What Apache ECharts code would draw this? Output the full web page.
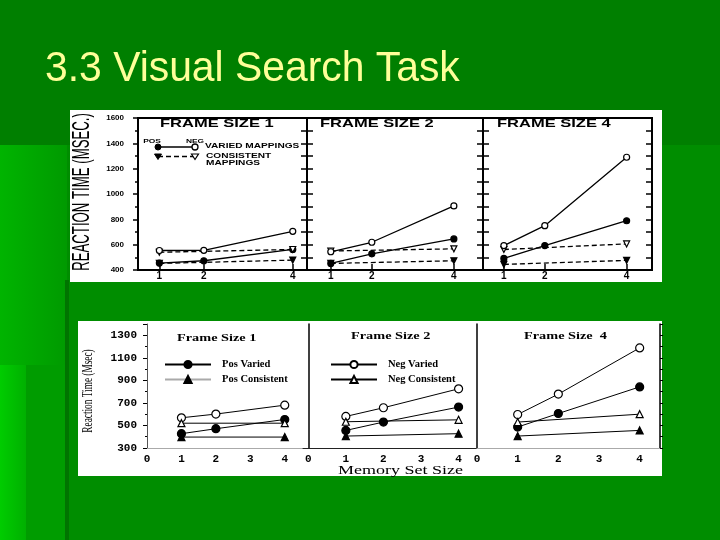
<!DOCTYPE html>
<html>
<head>
<meta charset="utf-8">
<title>3.3 Visual Search Task</title>
<script src="https://cdn.jsdelivr.net/npm/echarts@6/dist/echarts.min.js"></script>
<style>html,body{margin:0;padding:0;background:#008000;}</style>
</head>
<body>
<div id="main" style="width:720px;height:540px;"></div>
<script type="text/javascript">
// memory set sizes on the x axis
var setSize = [1, 2, 4];
var consSize = [1, 4];      // consistent mapping only plotted at 1 and 4
var frameSizes = ['1', '2', '4'];

// upper figure, one row per frame size (1, 2, 4)
var upPosVaried = [[455, 473, 562], [452, 528, 645], [491, 593, 789]];
var upNegVaried = [[554, 555, 705], [544, 619, 906], [593, 750, 1290]];
var upPosConsistent = [[452, 478], [452, 473], [444, 476]];
var upNegConsistent = [[540, 562], [550, 567], [562, 606]];

// lower figure
var loPosVaried = [[427, 471, 553], [456, 530, 663], [486, 606, 842]];
var loNegVaried = [[568, 601, 680], [580, 657, 825], [597, 778, 1188]];
var loPosConsistent = [[397, 397], [406, 427], [406, 456]];
var loNegConsistent = [[520, 520], [533, 550], [530, 600]];

var upTicksX = [1, 2, 4];
var loTicksX = [0, 1, 2, 3, 4];

function pairs(xs, ys) {
  var out = [];
  for (var i = 0; i < xs.length; i++) out.push([xs[i], ys[i]]);
  return out;
}

function mk(name, ax, ay, data, symbol, filled, dashed, size, rot, width) {
  return {
    name: name, type: 'line', xAxisIndex: ax, yAxisIndex: ay, data: data,
    symbol: symbol, symbolSize: size, symbolRotate: rot || 0, z: filled ? 3 : 4,
    lineStyle: {color: '#000', width: width, type: dashed ? [5, 3] : 'solid'},
    itemStyle: {color: filled ? '#000' : '#fff', borderColor: '#000', borderWidth: 1.2},
    animation: false
  };
}

function plain(v) { return String(v); }

var chart = echarts.init(document.getElementById('main'));

var upGrid = [
  {left: 138, top: 118, width: 169, height: 152},
  {left: 307, top: 118, width: 176, height: 152},
  {left: 483, top: 118, width: 169, height: 152}
];
var upRange = [[0.52, 4.32], [0.42, 4.71], [0.49, 4.62]];
var loGrid = [
  {left: 147, top: 324, width: 156, height: 124},
  {left: 303, top: 324, width: 174, height: 124},
  {left: 477, top: 324, width: 183, height: 124}
];
var loRange = [[0, 4.53], [-0.14, 4.49], [0, 4.5]];

var grid = [], xAxis = [], yAxis = [], series = [];
var i;
for (i = 0; i < 3; i++) {
  grid.push(Object.assign({show: true, borderColor: '#000', borderWidth: 2, backgroundColor: 'transparent'}, upGrid[i]));
  xAxis.push({
    type: 'value', gridIndex: i, min: upRange[i][0], max: upRange[i][1],
    axisLine: {show: true, onZero: false, lineStyle: {color: '#000', width: 2}},
    axisTick: {show: true, inside: true, length: 6, customValues: upTicksX, lineStyle: {color: '#000', width: 1.5}},
    axisLabel: {customValues: upTicksX, margin: 1, fontSize: 10, fontWeight: 'bold', color: '#000', fontFamily: 'Liberation Sans'},
    splitLine: {show: false}
  });
}
for (i = 0; i < 3; i++) {
  grid.push(Object.assign({show: false}, loGrid[i]));
  xAxis.push({
    type: 'value', gridIndex: 3 + i, min: loRange[i][0], max: loRange[i][1],
    axisLine: {show: true, onZero: false, lineStyle: {color: i == 1 ? '#222' : '#aaa', width: 1}},
    axisTick: {show: false},
    axisLabel: {customValues: loTicksX, margin: 6, fontSize: 11, fontWeight: 'bold', color: '#000', fontFamily: 'Liberation Mono'},
    splitLine: {show: false}
  });
}
// upper left axes 0..2
for (i = 0; i < 3; i++) {
  yAxis.push({
    type: 'value', gridIndex: i, min: 400, max: 1600, interval: i == 0 ? 200 : 100,
    axisLine: {show: true, lineStyle: {color: '#000', width: 2}},
    axisTick: i == 0 ? {show: true, inside: false, length: 5, lineStyle: {color: '#000', width: 1.5}}
                     : {show: true, inside: true, length: 6, lineStyle: {color: '#000', width: 1.5}},
    minorTick: {show: i == 0, splitNumber: 2, length: 3, lineStyle: {color: '#000', width: 1.5}},
    axisLabel: {show: i == 0, formatter: plain, margin: 14, fontSize: 8, fontWeight: 'bold', color: '#000', fontFamily: 'Liberation Sans'},
    splitLine: {show: false}
  });
}
// upper right axes 3..5
for (i = 0; i < 3; i++) {
  yAxis.push({
    type: 'value', gridIndex: i, position: 'right', min: 400, max: 1600, interval: 100,
    axisLine: {show: true, lineStyle: {color: '#000', width: 2}},
    axisTick: {show: true, inside: true, length: 6, lineStyle: {color: '#000', width: 1.5}},
    axisLabel: {show: false}, splitLine: {show: false}
  });
}
// lower left axes 6..8
for (i = 0; i < 3; i++) {
  yAxis.push({
    type: 'value', gridIndex: 3 + i, min: 300, max: 1400, interval: 200,
    axisLine: {show: true, lineStyle: {color: i == 0 ? '#555' : '#000', width: i == 0 ? 1 : 1.5}},
    axisTick: {show: i == 0, inside: false, length: 4, lineStyle: {color: '#000'}},
    minorTick: {show: i == 0, splitNumber: 2, length: 2, lineStyle: {color: '#000'}},
    axisLabel: {show: i == 0, formatter: plain, showMaxLabel: false, margin: 10, fontSize: 11, fontWeight: 'bold', color: '#000', fontFamily: 'Liberation Mono'},
    splitLine: {show: false}
  });
}
// lower right edge of last panel, 9
yAxis.push({
  type: 'value', gridIndex: 5, position: 'right', min: 300, max: 1400, interval: 100,
  axisLine: {show: true, lineStyle: {color: '#000', width: 1.5}},
  axisTick: {show: true, inside: false, length: 3, lineStyle: {color: '#000'}},
  axisLabel: {show: false}, splitLine: {show: false}
});

for (i = 0; i < 3; i++) {
  series.push(mk('NEG CONSISTENT', i, i, pairs(consSize, upNegConsistent[i]), 'triangle', false, true, 6, 180, 1.3));
  series.push(mk('POS CONSISTENT', i, i, pairs(consSize, upPosConsistent[i]), 'triangle', true, true, 6, 180, 1.3));
  series.push(mk('POS VARIED', i, i, pairs(setSize, upPosVaried[i]), 'circle', true, false, 6, 0, 1.3));
  series.push(mk('NEG VARIED', i, i, pairs(setSize, upNegVaried[i]), 'circle', false, false, 6, 0, 1.3));
}
for (i = 0; i < 3; i++) {
  series.push(mk('Pos Varied', 3 + i, 6 + i, pairs(setSize, loPosVaried[i]), 'circle', true, false, 8, 0, 1));
  series.push(mk('Pos Consistent', 3 + i, 6 + i, pairs(consSize, loPosConsistent[i]), 'triangle', true, false, 7, 0, 1));
  series.push(mk('Neg Varied', 3 + i, 6 + i, pairs(setSize, loNegVaried[i]), 'circle', false, false, 8, 0, 1));
  series.push(mk('Neg Consistent', 3 + i, 6 + i, pairs(consSize, loNegConsistent[i]), 'triangle', false, false, 7, 0, 1));
}

var legendText = {fontFamily: 'Liberation Serif', fontWeight: 'bold', fontSize: 10.5, color: '#000', padding: [0, 0, 0, 6]};
var legend = [
  {left: 159, top: 354, orient: 'vertical', itemWidth: 46, itemHeight: 9, itemGap: 4, textStyle: legendText, selectedMode: false,
   data: [{name: 'Pos Varied', lineStyle: {width: 2}}, {name: 'Pos Consistent', lineStyle: {color: '#aaa'}}]},
  {left: 325, top: 354, orient: 'vertical', itemWidth: 46, itemHeight: 9, itemGap: 4, textStyle: legendText, selectedMode: false,
   data: ['Neg Varied', 'Neg Consistent']}
];

function txt(t, x, y, font, sx, align, extra) {
  return Object.assign({
    type: 'text', x: x, y: y, scaleX: sx, z: 50,
    style: {text: t, font: font, fill: '#000', textAlign: align || 'left', textVerticalAlign: 'middle'}
  }, extra || {});
}

var graphic = [
  // slide background
  {type: 'rect', z: -20, shape: {x: 0, y: 0, width: 720, height: 145}, style: {fill: '#007f00'}},
  {type: 'rect', z: -20, shape: {x: 0, y: 145, width: 720, height: 395}, style: {fill: '#008d00'}},
  {type: 'rect', z: -19, shape: {x: 0, y: 145, width: 67, height: 395},
   style: {fill: new echarts.graphic.LinearGradient(0, 0, 1, 0, [{offset: 0, color: '#00b400'}, {offset: 1, color: '#009a00'}])}},
  {type: 'rect', z: -18, shape: {x: 0, y: 365, width: 26, height: 175},
   style: {fill: new echarts.graphic.LinearGradient(0, 0, 1, 0, [{offset: 0, color: '#00cc00'}, {offset: 1, color: '#00b000'}])}},
  {type: 'rect', z: -18, shape: {x: 26, y: 365, width: 40, height: 175}, style: {fill: '#009c00'}},
  {type: 'rect', z: -18, shape: {x: 65, y: 280, width: 4, height: 260}, style: {fill: '#007400'}},
  // white figure panels
  {type: 'rect', z: -10, shape: {x: 70, y: 110, width: 592, height: 172}, style: {fill: '#fff'}},
  {type: 'rect', z: -10, shape: {x: 78, y: 321, width: 584, height: 155}, style: {fill: '#fff'}},
  // slide title
  {type: 'text', x: 45, y: 69, scaleX: 0.95, z: 50,
   style: {text: '3.3 Visual Search Task', font: '43px "Liberation Sans"', fill: '#ffff99', textAlign: 'left', textVerticalAlign: 'middle'}},
  // upper figure texts
  txt('REACTION TIME (MSEC.)', 82, 192, '24px "Liberation Sans"', 0.55, 'center', {rotation: Math.PI / 2}),
  txt('FRAME SIZE 1', 160, 124, 'bold 10px "Liberation Sans"', 1.65),
  txt('FRAME SIZE 2', 320, 124, 'bold 10px "Liberation Sans"', 1.65),
  txt('FRAME SIZE 4', 497, 124, 'bold 10px "Liberation Sans"', 1.65),
  txt('POS', 152, 141, 'bold 6px "Liberation Sans"', 1.4, 'center'),
  txt('NEG', 195, 141, 'bold 6px "Liberation Sans"', 1.4, 'center'),
  txt('VARIED MAPPINGS', 205, 146, 'bold 7.5px "Liberation Sans"', 1.35),
  txt('CONSISTENT', 206, 156, 'bold 7.5px "Liberation Sans"', 1.35),
  txt('MAPPINGS', 206, 163, 'bold 7.5px "Liberation Sans"', 1.35),
  {type: 'line', z: 40, shape: {x1: 158, y1: 147, x2: 195, y2: 147}, style: {stroke: '#000', lineWidth: 1.5}},
  {type: 'circle', z: 41, shape: {cx: 158, cy: 147, r: 3}, style: {fill: '#000', stroke: '#000'}},
  {type: 'circle', z: 41, shape: {cx: 195, cy: 147, r: 3}, style: {fill: '#fff', stroke: '#000', lineWidth: 1.3}},
  {type: 'line', z: 40, shape: {x1: 158, y1: 156.5, x2: 195, y2: 156.5}, style: {stroke: '#000', lineWidth: 1.5, lineDash: [5, 3]}},
  {type: 'polygon', z: 41, shape: {points: [[154.5, 154], [161.5, 154], [158, 159.5]]}, style: {fill: '#000', stroke: '#000'}},
  {type: 'polygon', z: 41, shape: {points: [[191.5, 154], [198.5, 154], [195, 159.5]]}, style: {fill: '#fff', stroke: '#000', lineWidth: 1.2}},
  // lower figure texts
  txt('Reaction Time (Msec)', 88, 391, '15px "Liberation Serif"', 0.62, 'center', {rotation: Math.PI / 2}),
  txt('Frame Size 1', 177, 338, 'bold 11px "Liberation Serif"', 1.3),
  txt('Frame Size 2', 351, 336, 'bold 11px "Liberation Serif"', 1.3),
  txt('Frame Size  4', 524, 336, 'bold 11px "Liberation Serif"', 1.3),
  txt('Memory Set Size', 338, 471, '12px "Liberation Serif"', 1.5)
];

var option = {
  backgroundColor: '#008000',
  animation: false,
  grid: grid,
  xAxis: xAxis,
  yAxis: yAxis,
  legend: legend,
  series: series,
  graphic: graphic
};
chart.setOption(option);
</script>
</body>
</html>
